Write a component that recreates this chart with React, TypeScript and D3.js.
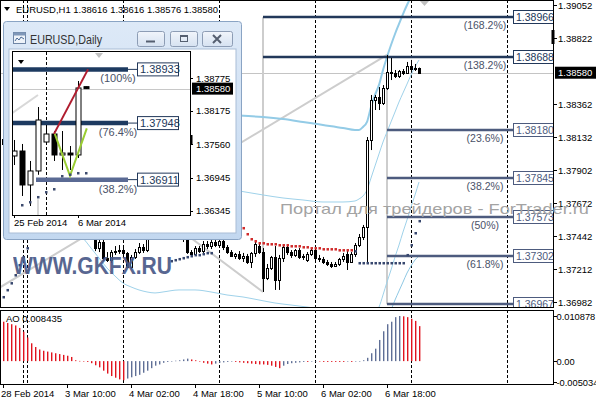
import React from 'react';
import * as d3 from 'd3';

// EURUSD H1, bars from 28 Feb 2014 18:00 to 7 Mar 2014 02:00
const barOpen = [
  1.3812, 1.3808, 1.3805, 1.3801, 1.3803, 1.377, 1.3769, 1.3766, 1.377, 1.3765,
  1.376, 1.3764, 1.3761, 1.3765, 1.3768, 1.3772, 1.3776, 1.3773, 1.377, 1.3765,
  1.376, 1.3754, 1.37505, 1.3743, 1.37358, 1.374, 1.37289, 1.37275, 1.3733, 1.37337,
  1.37344, 1.37324, 1.37226, 1.37296, 1.3733, 1.37365, 1.37344, 1.37456, 1.37505, 1.37547,
  1.37589, 1.3763, 1.37651, 1.3761, 1.37547, 1.37505, 1.37421, 1.3733, 1.37317, 1.37358,
  1.37337, 1.37386, 1.37372, 1.374, 1.37379, 1.37407, 1.37365, 1.3733, 1.37303, 1.37317,
  1.37289, 1.37303, 1.37261, 1.37324, 1.37372, 1.3733, 1.37149, 1.37219, 1.37296, 1.37135,
  1.37289, 1.37365, 1.3733, 1.3731, 1.37344, 1.37296, 1.37275, 1.37317, 1.37344, 1.37289,
  1.37282, 1.37261, 1.37247, 1.37233, 1.37247, 1.37282, 1.37317, 1.37261, 1.37317, 1.37379,
  1.37435, 1.37505, 1.38111, 1.3839, 1.38411, 1.38369, 1.38473, 1.38585, 1.38578, 1.38557,
  1.38592, 1.38578, 1.38627, 1.38606, 1.38616,
];
const barHigh = [
  1.3815, 1.3811, 1.3808, 1.3806, 1.3804, 1.3774, 1.3772, 1.3774, 1.3772, 1.3768,
  1.3766, 1.3766, 1.3767, 1.377, 1.3774, 1.3778, 1.3779, 1.3776, 1.3772, 1.3768,
  1.3762, 1.3756, 1.37519, 1.37449, 1.37414, 1.37414, 1.3733, 1.37344, 1.37372, 1.37379,
  1.37365, 1.3733, 1.3731, 1.37351, 1.37393, 1.37386, 1.3747, 1.37526, 1.37568, 1.3761,
  1.37658, 1.377, 1.37672, 1.37623, 1.37575, 1.37519, 1.37435, 1.37344, 1.37372, 1.37372,
  1.37407, 1.37407, 1.37414, 1.37421, 1.37421, 1.37428, 1.37379, 1.37344, 1.37324, 1.37337,
  1.37324, 1.37317, 1.3733, 1.374, 1.37386, 1.37358, 1.37247, 1.37303, 1.37372, 1.3731,
  1.37379, 1.37379, 1.37344, 1.37351, 1.37358, 1.37317, 1.3733, 1.37358, 1.37358, 1.3731,
  1.37296, 1.37275, 1.37261, 1.37261, 1.37289, 1.37324, 1.37337, 1.3733, 1.37393, 1.37456,
  1.37519, 1.38132, 1.38425, 1.38425, 1.3848, 1.38494, 1.38704, 1.38683, 1.38599, 1.38599,
  1.38606, 1.38655, 1.38669, 1.38641, 1.38616,
];
const barLow = [
  1.3806, 1.3803, 1.3799, 1.3799, 1.3766, 1.3764, 1.3744, 1.376, 1.3762, 1.3756,
  1.3757, 1.3758, 1.3759, 1.3762, 1.3766, 1.377, 1.3772, 1.3769, 1.3764, 1.3759,
  1.3752, 1.37491, 1.37421, 1.37337, 1.3733, 1.37268, 1.37261, 1.37254, 1.3731, 1.37317,
  1.37303, 1.37219, 1.37212, 1.37282, 1.37317, 1.37324, 1.3733, 1.37435, 1.37484, 1.37526,
  1.37568, 1.3761, 1.37596, 1.37533, 1.37491, 1.374, 1.37317, 1.3731, 1.3731, 1.37324,
  1.37324, 1.37351, 1.37351, 1.37365, 1.37365, 1.37344, 1.37317, 1.37296, 1.37282, 1.37275,
  1.37261, 1.37247, 1.37219, 1.37296, 1.37317, 1.37052, 1.37135, 1.37205, 1.37066, 1.37066,
  1.37261, 1.3731, 1.37289, 1.37296, 1.37282, 1.37275, 1.37261, 1.37303, 1.37275, 1.37261,
  1.37247, 1.37233, 1.37219, 1.37226, 1.37233, 1.37261, 1.37205, 1.37254, 1.37296, 1.37365,
  1.37414, 1.37261, 1.38041, 1.3832, 1.3832, 1.38355, 1.3846, 1.38529, 1.38543, 1.38543,
  1.38564, 1.38571, 1.38585, 1.38592, 1.38576,
];
const barClose = [
  1.3808, 1.3805, 1.3801, 1.3803, 1.377, 1.3769, 1.3766, 1.377, 1.3765, 1.376,
  1.3764, 1.3761, 1.3765, 1.3768, 1.3772, 1.3776, 1.3773, 1.377, 1.3765, 1.376,
  1.3754, 1.37505, 1.3743, 1.37358, 1.374, 1.37289, 1.37275, 1.3733, 1.37337, 1.37344,
  1.37324, 1.37226, 1.37296, 1.3733, 1.37365, 1.37344, 1.37456, 1.37505, 1.37547, 1.37589,
  1.3763, 1.37651, 1.3761, 1.37547, 1.37505, 1.37421, 1.3733, 1.37317, 1.37358, 1.37337,
  1.37386, 1.37372, 1.374, 1.37379, 1.37407, 1.37365, 1.3733, 1.37303, 1.37317, 1.37289,
  1.37303, 1.37261, 1.37324, 1.37386, 1.3733, 1.37149, 1.37219, 1.37296, 1.37135, 1.37289,
  1.37365, 1.3733, 1.3731, 1.37344, 1.37296, 1.37303, 1.37317, 1.37344, 1.37289, 1.37282,
  1.37261, 1.37247, 1.37233, 1.37247, 1.37282, 1.37303, 1.37261, 1.37317, 1.37379, 1.37435,
  1.37505, 1.38111, 1.3839, 1.38411, 1.38369, 1.38473, 1.38585, 1.38578, 1.38557, 1.38592,
  1.38578, 1.38627, 1.38606, 1.38616, 1.3858,
];

// Awesome Oscillator, one value per bar
const aoValues = [
  0.0095, 0.0092, 0.0089, 0.0086, 0.008, 0.0071, 0.0057, 0.0043, 0.0034, 0.0028,
  0.0025, 0.0023, 0.0021, 0.0019, 0.0017, 0.0015, 0.0013, 0.001, 0.0002, 0.00005,
  -0.0001, -0.0002, -0.0005, -0.001, -0.0015, -0.0023, -0.003, -0.0036, -0.004, -0.0044,
  -0.0046, -0.0042, -0.0039, -0.0036, -0.0033, -0.0028, -0.0023, -0.0017, -0.0011, -0.0008,
  -0.0004, -0.0002, -0.0001, 0.0001, 0.0002, 0.0004, 0.0006, 0.0004, 0.0002, -0.0001,
  -0.0004, -0.0006, -0.0008, -0.0006, -0.0004, -0.0003, -0.0002, -0.0001, -0.0002, -0.0003,
  -0.0004, -0.0005, -0.0006, -0.0007, -0.0008, -0.0008, -0.0009, -0.0011, -0.0014, -0.0017,
  -0.0011, -0.0007, -0.0005, -0.0004, -0.0003, -0.0002, -0.0002, -0.0001, 0.00002, -0.0001,
  -0.0002, -0.0002, -0.0002, -0.0002, -0.0002, -0.0002, -0.0001, -0.0002, -0.0001, 0.00001,
  0.0002, 0.0008, 0.0019, 0.003, 0.0051, 0.0072, 0.0089, 0.0095, 0.0106, 0.010878,
  0.0108, 0.0106, 0.0102, 0.0097, 0.008435,
];

// Parabolic SAR dots (null where hidden by the daily window)
const sarValues: (number | null)[] = [
  1.37017, 1.37066, 1.37114, 1.3717, 1.3724, 1.37296, 1.37358, null, null, null,
  null, null, null, null, null, null, null, null, null, null,
  null, null, null, null, null, null, null, null, null, null,
  null, null, null, null, null, null, null, null, null, null,
  null, null, 1.37268, 1.37275, 1.37282, 1.37289, 1.37296, 1.37303, 1.3731, 1.3731,
  1.37317, 1.37324, 1.37324, null, null, null, null, null, null, null,
  1.37498, 1.37456, 1.37421, 1.37407, 1.37393, 1.37393, 1.37386, 1.37386, 1.37386, 1.37379,
  1.37379, 1.37379, 1.37372, 1.37372, 1.37372, 1.37365, 1.37365, 1.37358, 1.37358, 1.37358,
  1.37351, 1.37351, 1.37351, 1.37351, 1.37344, 1.37344, 1.37344, 1.37344, 1.37337, 1.37254,
  1.37254, 1.37254, 1.37254, 1.37254, 1.37254, 1.37254, 1.37254, 1.37254, 1.37254, 1.37254,
  1.37254, 1.3731, 1.37379, 1.37463, 1.37547,
];

// channel lines: [bar index, price]
const bandUpper: [number, number][] = [
  [59, 1.38281], [65, 1.38271], [70, 1.38257], [75, 1.38237], [80, 1.38216], [85, 1.38195],
  [88, 1.38181], [89, 1.38181], [90, 1.38202], [91, 1.38237], [92, 1.38341], [93, 1.38425],
  [94, 1.38495], [95, 1.38599], [96, 1.3869], [97, 1.38773], [98, 1.3885], [99, 1.3892],
  [100, 1.38989], [101, 1.39052], [102, 1.39108], [103, 1.39157], [104, 1.39205],
];
const bandMiddle: [number, number][] = [
  [59, 1.37756], [65, 1.37728], [70, 1.37707], [75, 1.37693], [80, 1.37679], [85, 1.37679],
  [88, 1.37686], [89, 1.377], [90, 1.37721], [91, 1.37763], [92, 1.37846], [93, 1.3793],
  [94, 1.38014], [95, 1.38097], [96, 1.38167], [97, 1.38237], [98, 1.38306], [99, 1.38376],
  [100, 1.38439], [101, 1.38501], [102, 1.38564], [103, 1.3862], [104, 1.38669],
];
const bandLower: [number, number][] = [
  [18, 1.37484], [20, 1.37428], [22, 1.37358], [24, 1.37289], [26, 1.37219], [28, 1.37163],
  [30, 1.37114], [32, 1.37087], [34, 1.37066], [36, 1.37052], [38, 1.37045], [40, 1.37052],
  [44, 1.37066], [48, 1.37066], [52, 1.37052], [56, 1.37031], [60, 1.37017], [64, 1.36996],
  [68, 1.36975], [72, 1.36961], [76, 1.36947], [80, 1.36933], [86, 1.36926], [90, 1.36919],
  [93, 1.36912], [94, 1.36947], [95, 1.37031], [96, 1.37121], [97, 1.37205], [98, 1.37296],
  [99, 1.37379], [100, 1.3747], [101, 1.37554], [102, 1.37644], [103, 1.37728], [104, 1.37818],
];
const bandOuter: [number, number][] = [
  [96, 1.3687], [97, 1.36926], [98, 1.36996], [99, 1.37059], [100, 1.37121], [101, 1.37184],
  [102, 1.37233], [103, 1.37275], [104, 1.37303],
];

// grey fibo trend lines: [bar index, price]
const fiboRise: [number, number][] = [[-1, 1.3708], [96, 1.38704]];
const fiboFall: [number, number][] = [[40, 1.37574], [65, 1.37052]];
const fiboStemA: [number, number][] = [[65, 1.38966], [65, 1.37052]];
const fiboStemB: [number, number][] = [[96, 1.3858], [96, 1.36967]];

const expansionStart = 65;
const expansionLabels = ['(168.2%)', '(138.2%)'];
const expansionPrices = [1.38966, 1.38688];
const retraceStart = 96;
const retraceLabels = ['(23.6%)', '(38.2%)', '(50%)', '(61.8%)', '(76.4%)'];
const retracePrices = [1.3818, 1.37845, 1.37573, 1.37302, 1.36967];

const priceTicks = [1.39052, 1.38822, 1.38362, 1.38132, 1.37902, 1.37672, 1.37442, 1.37212, 1.36982];
const timeTickBars = [0, 16, 32, 48, 64, 80, 96];
const timeLabels = ['28 Feb 2014', '3 Mar 10:00', '4 Mar 02:00', '4 Mar 18:00', '5 Mar 10:00', '6 Mar 02:00', '6 Mar 18:00'];
const separatorBars = [5, 6, 30, 54, 78, 102, 126];
const aoTicks = [0.010878, 0, -0.005034];
const aoTickLabels = ['0.010878', '0.00', '-0.005034'];
const lastPrice = 1.3858;

// daily window
const dayOpen = [1.37345, 1.37436, 1.36813, 1.3707, 1.37601, 1.37748, 1.37363, 1.37399, 1.37363, 1.38616];
const dayHigh = [1.37638, 1.37565, 1.37253, 1.38243, 1.37913, 1.37803, 1.37803, 1.37528, 1.3872, 1.38616];
const dayLow = [1.37179, 1.36611, 1.36427, 1.37, 1.37565, 1.37253, 1.37088, 1.37088, 1.37308, 1.38576];
const dayClose = [1.37436, 1.36813, 1.3707, 1.38005, 1.37748, 1.37363, 1.37399, 1.37363, 1.38592, 1.3858];
const daySar: (number | null)[] = [null, 1.36446, 1.36501, 1.36593, 1.36684, 1.36739, 1.36978, 1.37006, 1.37033, 1.37033];
const dayTicks = [1.38775, 1.38175, 1.3756, 1.36945, 1.36345];
const dayFiboLabels = ['(100%)', '(76.4%)', '(38.2%)'];
const dayFiboPrices = [1.38933, 1.37948, 1.36911];
const dayFiboStart = [-1, -1, 2.75];
const dayFiboEnd = 14.25;
const dayRed: [number, number][] = [[5, 1.3775], [9.25, 1.38933]];
const dayGreen: [number, number][] = [[5.1, 1.3775], [7, 1.3698], [9.1, 1.3785]];
const dayGrey: [number, number][] = [[-0.2, 1.38133], [3, 1.38463]];
const dayDateBars = [0, 8];
const dayDateLabels = ['25 Feb 2014', '6 Mar 2014'];

const FONT = '"Liberation Sans", Arial, sans-serif';
const NAVY = '#22385a';
const SLATE = '#4d5b7e';

const fmt = d3.format('.5f');

function DailyWindow() {
  const xd = d3.scaleLinear().domain([0, 9]).range([14, 86]);
  const yd = d3.scaleLinear().domain([1.36345, 1.38775]).range([210.5, 78]);
  const dl = d3.line<[number, number]>().x(d => xd(d[0])).y(d => yd(d[1]));
  return (
    <g>
      <defs>
        <linearGradient id="frameGrad" x1="0" y1="0" x2="0" y2="1">
          <stop offset="0" stopColor="#dde9f7" />
          <stop offset="1" stopColor="#c3d8f0" />
        </linearGradient>
        <linearGradient id="btnGrad" x1="0" y1="0" x2="0" y2="1">
          <stop offset="0" stopColor="#f1f5fb" />
          <stop offset="1" stopColor="#d6e2f1" />
        </linearGradient>
        <clipPath id="dayClip"><rect x={13} y={52} width={177} height={163} /></clipPath>
      </defs>
      <rect x={3.5} y={21.5} width={238} height={218} rx={3} fill="url(#frameGrad)" stroke="#8aa4c4" />
      <rect x={9} y={49} width={227} height={184} fill="#fff" stroke="#a9bdd6" />
      {/* icon */}
      <rect x={13.5} y={32.5} width={12} height={11} fill="#eef3f9" stroke="#6f86a6" />
      <rect x={13.5} y={32.5} width={12} height={3} fill="#7f97b8" />
      <polyline points="15,41 17,38 19,40 21,37 24,39" fill="none" stroke="#4a6a95" />
      <text x={30} y={44} fontSize={13} fill="#333" textLength={72} lengthAdjust="spacingAndGlyphs">EURUSD,Daily</text>
      {[137, 170, 202].map((bx, k) => (
        <rect key={k} x={bx + 0.5} y={31.5} width={k === 2 ? 30 : 27} height={15} rx={2} fill="url(#btnGrad)" stroke="#8d9db5" />
      ))}
      <line x1={146} x2={155} y1={41.5} y2={41.5} stroke="#555f70" strokeWidth={2} />
      <rect x={180.5} y={35.5} width={7} height={6} fill="none" stroke="#555f70" />
      <line x1={180.5} x2={187.5} y1={36} y2={36} stroke="#555f70" strokeWidth={2} />
      <path d="M213,35 L221,43 M221,35 L213,43" stroke="#555f70" strokeWidth={2} />

      <rect x={12.5} y={51.5} width={178} height={164} fill="#fff" stroke="#000" />
      <g clipPath="url(#dayClip)">
        <line x1={13} x2={190} y1={Math.round(yd(lastPrice)) + 0.5} y2={Math.round(yd(lastPrice)) + 0.5} stroke="#c8c8c8" />
        <path d={dl(dayGrey) || ''} stroke="#d8d8d8" strokeWidth={2} fill="none" />
        <line x1={xd(3)} x2={xd(3)} y1={yd(1.3655)} y2={216} stroke="#d8d8d8" strokeWidth={2} />
        <line x1={xd(4) + 0.5} x2={xd(4) + 0.5} y1={52} y2={215} stroke="#000" strokeDasharray="3,2" />
        {dayFiboPrices.map((p, k) => (
          <line key={k} x1={xd(dayFiboStart[k])} x2={xd(dayFiboEnd)} y1={yd(p)} y2={yd(p)}
            stroke={k === 2 ? '#5a6a94' : '#1d3a60'} strokeWidth={4.5} />
        ))}
        {dayOpen.map((o, d) => {
          const c = dayClose[d];
          const cx = Math.round(xd(d)) + 0.5;
          const top = yd(Math.max(o, c));
          const bot = yd(Math.min(o, c));
          return (
            <g key={d}>
              <line x1={cx} x2={cx} y1={yd(dayHigh[d])} y2={yd(dayLow[d])} stroke="#000" />
              <rect x={cx - 2.5} y={top} width={5} height={Math.max(1, bot - top)}
                fill={c >= o ? '#fff' : '#000'} stroke="#000" />
            </g>
          );
        })}
        <path d={dl(dayRed) || ''} stroke="#b01c2e" strokeWidth={2} fill="none" />
        <path d={dl(dayGreen) || ''} stroke="#9acd32" strokeWidth={2} fill="none" />
        {daySar.map((s, d) => s === null ? null : (
          <rect key={d} x={xd(d) - 1} y={yd(s) - 1} width={2.5} height={2.5} fill="#3d4b6e" />
        ))}
        {dayFiboPrices.map((p, k) => (
          <g key={k}>
            <line x1={xd(dayFiboEnd)} x2={137} y1={yd(p)} y2={yd(p)} stroke={NAVY} />
            <rect x={137.5} y={yd(p) - 6.5} width={41} height={13} fill="#fff" stroke={NAVY} />
            <text x={140} y={yd(p) + 4} fontSize={11} fill={NAVY}>{fmt(p)}</text>
            <text x={118} y={yd(p) + 13} fontSize={11} fill="#4a5268" textAnchor="middle">{dayFiboLabels[k]}</text>
          </g>
        ))}
        <path d="M18,60 L24,60 L21,64 Z" fill="#000" />
        <path d="M95,53 L103,53 L99,58 Z" fill="#c0c0c0" />
      </g>
      <rect x={190} y={135} width={2.5} height={10} fill="#000" />
      {dayTicks.map(p => (
        <g key={p}>
          <line x1={190.5} x2={193} y1={Math.round(yd(p)) + 0.5} y2={Math.round(yd(p)) + 0.5} stroke="#000" />
          <text x={196} y={yd(p) + 3.5} fontSize={9.5} fill="#000">{fmt(p)}</text>
        </g>
      ))}
      <rect x={192} y={yd(lastPrice) - 6} width={41} height={12} fill="#000" />
      <text x={196} y={yd(lastPrice) + 3.5} fontSize={9.5} fill="#fff">{fmt(lastPrice)}</text>
      {dayDateBars.map((d, k) => (
        <g key={d}>
          <line x1={xd(d) + 0.5} x2={xd(d) + 0.5} y1={215.5} y2={218} stroke="#000" />
          <text x={xd(d)} y={226} fontSize={9.5} fill="#000">{dayDateLabels[k]}</text>
        </g>
      ))}
    </g>
  );
}

export default function App() {
  const x = d3.scaleLinear().domain([0, 104]).range([3, 419]);
  const y = d3.scaleLinear().domain([1.36982, 1.39052]).range([302, 5]);
  const yAo = d3.scaleLinear().domain([-0.005034, 0.010878]).range([382, 316]);
  const smooth = d3.line<[number, number]>().x(d => x(d[0])).y(d => y(d[1])).curve(d3.curveMonotoneX);
  const straight = d3.line<[number, number]>().x(d => x(d[0])).y(d => y(d[1]));
  const labelX = 513;

  const fiboRows = [
    ...expansionPrices.map((p, k) => ({ p, label: expansionLabels[k], start: expansionStart, color: NAVY })),
    ...retracePrices.map((p, k) => ({ p, label: retraceLabels[k], start: retraceStart, color: SLATE })),
  ];

  return (
    <svg width={596} height={400} fontFamily={FONT}
      style={{ position: 'absolute', left: 0, top: 0, background: '#fff', display: 'block' }}>
      <defs>
        <clipPath id="mainClip"><rect x={1} y={1} width={552} height={306} /></clipPath>
        <clipPath id="aoClip"><rect x={1} y={311} width={552} height={73} /></clipPath>
      </defs>
      <rect x={0} y={0} width={596} height={400} fill="#fff" />

      <g clipPath="url(#mainClip)">
        {separatorBars.map(i => (
          <line key={i} x1={x(i) + 0.5} x2={x(i) + 0.5} y1={0} y2={308} stroke="#000" strokeDasharray="3,2" />
        ))}
        <line x1={0} x2={553} y1={Math.round(y(lastPrice)) + 0.5} y2={Math.round(y(lastPrice)) + 0.5} stroke="#c4c4c4" />
        <path d={straight(fiboRise) || ''} stroke="#cdcdcd" strokeWidth={2} fill="none" />
        <path d={straight(fiboFall) || ''} stroke="#cdcdcd" strokeWidth={2} fill="none" />
        <path d={straight(fiboStemA) || ''} stroke="#cdcdcd" strokeWidth={2} fill="none" />
        <path d={straight(fiboStemB) || ''} stroke="#cdcdcd" strokeWidth={2} fill="none" />
        <path d={smooth(bandUpper) || ''} stroke="#93cbe6" strokeWidth={2} fill="none" />
        <path d={smooth(bandMiddle) || ''} stroke="#9fd2ea" strokeWidth={1} fill="none" />
        <path d={smooth(bandLower) || ''} stroke="#9fd2ea" strokeWidth={1} fill="none" />
        <path d={smooth(bandOuter) || ''} stroke="#8ec8e4" strokeWidth={1} fill="none" />
        {fiboRows.map((r, k) => {
          const ly = Math.round(y(r.p));
          return (
            <g key={k}>
              <line x1={x(r.start)} x2={labelX} y1={ly} y2={ly} stroke={r.color} strokeWidth={2.5} />
              <rect x={labelX + 0.5} y={ly - 6.5} width={46} height={13} fill="#fff" stroke={r.color} />
              <text x={labelX + 3} y={ly + 4} fontSize={10.5} fill={r.color}>{fmt(r.p)}</text>
              <text x={485} y={ly + 12} fontSize={10.5} fill="#4a5268" textAnchor="middle">{r.label}</text>
            </g>
          );
        })}
        {barOpen.map((o, i) => {
          const c = barClose[i];
          const cx = Math.round(x(i)) + 0.5;
          const top = Math.round(y(Math.max(o, c)));
          const bot = Math.round(y(Math.min(o, c)));
          return (
            <g key={i}>
              <line x1={cx} x2={cx} y1={y(barHigh[i])} y2={y(barLow[i])} stroke="#000" />
              <rect x={cx - 1} y={top + 0.5} width={2} height={Math.max(1, bot - top)}
                fill={c >= o ? '#fff' : '#000'} stroke="#000" />
            </g>
          );
        })}
        {sarValues.map((s, i) => s === null ? null : (
          <rect key={i} x={x(i) - 0.5} y={y(s) - 1} width={2.5} height={2.5}
            fill={s > barClose[i] ? '#d02a2a' : '#37476e'} />
        ))}
        <path d="M420,1 L429,1 L424.5,6 Z" fill="#c0c0c0" />
        <path d="M4,7 L10,7 L7,11 Z" fill="#000" />
        <text x={16} y={13} fontSize={9.5} fill="#000" textLength={202} lengthAdjust="spacingAndGlyphs">
          EURUSD,H1 1.38616 1.38616 1.38576 1.38580
        </text>
      </g>

      {/* AO panel */}
      <g clipPath="url(#aoClip)">
        {separatorBars.map(i => (
          <line key={i} x1={x(i) + 0.5} x2={x(i) + 0.5} y1={310} y2={385} stroke="#000" strokeDasharray="3,2" />
        ))}
        {aoValues.map((v, i) => (
          <rect key={i} x={Math.round(x(i))} y={Math.min(yAo(0), yAo(v))} width={1.4}
            height={Math.max(0.5, Math.abs(yAo(v) - yAo(0)))}
            fill={i > 0 && v > aoValues[i - 1] ? '#5f6f96' : '#e0141e'} />
        ))}
        <text x={6} y={322} fontSize={9.5} fill="#000">AO 0.008435</text>
      </g>

      {/* frames */}
      <rect x={0.5} y={0.5} width={553} height={307} fill="none" stroke="#000" />
      <rect x={0.5} y={310.5} width={553} height={74} fill="none" stroke="#000" />

      {/* price axis */}
      {priceTicks.map(p => (
        <g key={p}>
          <line x1={553.5} x2={557} y1={Math.round(y(p)) + 0.5} y2={Math.round(y(p)) + 0.5} stroke="#000" />
          <text x={558} y={y(p) + 3.5} fontSize={9.5} fill="#000">{fmt(p)}</text>
        </g>
      ))}
      <rect x={551.5} y={30} width={3} height={14} fill="#000" />
      <rect x={555} y={y(lastPrice) - 6} width={41} height={12} fill="#000" />
      <text x={558} y={y(lastPrice) + 3.5} fontSize={9.5} fill="#fff">{fmt(lastPrice)}</text>

      {aoTicks.map((v, k) => (
        <g key={k}>
          <line x1={553.5} x2={557} y1={Math.round(yAo(v)) + 0.5} y2={Math.round(yAo(v)) + 0.5} stroke="#000" />
          <text x={556.5} y={yAo(v) + 3.5} fontSize={9.3} fill="#000">{aoTickLabels[k]}</text>
        </g>
      ))}

      {/* time axis */}
      {timeTickBars.map((i, k) => (
        <g key={i}>
          <line x1={x(i) + 0.5} x2={x(i) + 0.5} y1={384.5} y2={388} stroke="#000" />
          <text x={x(i) - 2} y={397} fontSize={9.5} fill="#000">{timeLabels[k]}</text>
        </g>
      ))}

      {/* watermarks */}
      <text x={280} y={214} fontSize={15} fill="#a3a3a3" textLength={309} lengthAdjust="spacingAndGlyphs">
        Портал для трейдеров - ForTrader.ru
      </text>
      <text x={13} y={274} fontSize={24} fontWeight="bold" fill="#4a5a88" opacity={0.92}
        textLength={159} lengthAdjust="spacingAndGlyphs">WWW.GKFX.RU</text>

      <DailyWindow />
    </svg>
  );
}
